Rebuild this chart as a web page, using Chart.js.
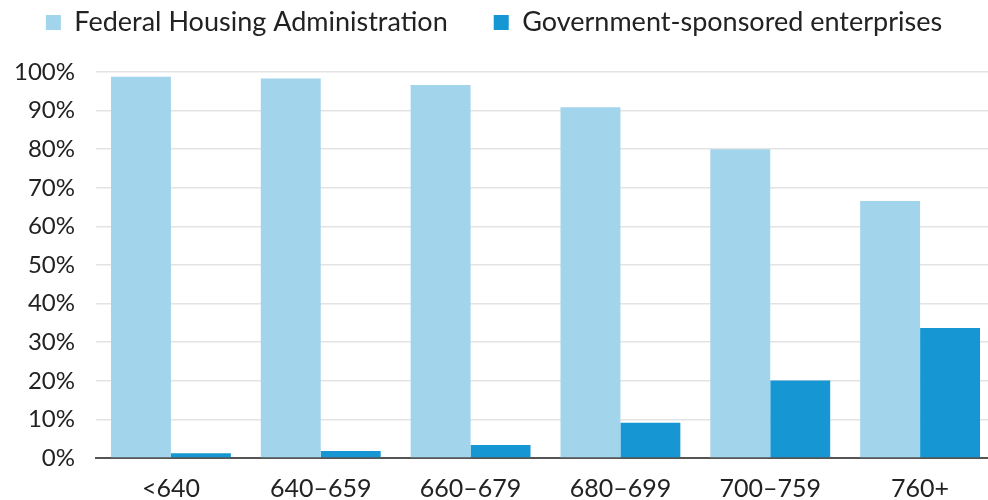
<!DOCTYPE html>
<html>
<head>
<meta charset="utf-8">
<script src="https://cdn.jsdelivr.net/npm/chart.js@4.4.0/dist/chart.umd.min.js"></script>
<style>
    html, body { margin: 0; padding: 0; background: #fff; overflow: hidden; }
    #wrap { width: 1000px; height: 500px; }
</style>
</head>
<body>
<div id="wrap"><canvas id="scoreChart"></canvas></div>
<script>
const categories = ['<640', '640\u2013659', '660\u2013679', '680\u2013699', '700\u2013759', '760+'];
const fhaShare = [98.8, 98.3, 96.6, 90.9, 80.0, 66.6];
const gseShare = [1.2, 1.8, 3.4, 9.1, 20.1, 33.7];
const yTicks = [0, 10, 20, 30, 40, 50, 60, 70, 80, 90, 100];

// push the plot down a bit below the legend
const legendGap = {
    id: 'legendGap',
    beforeInit(chart) {
        const fit = chart.legend.fit;
        chart.legend.fit = function () {
            fit.bind(chart.legend)();
            this.height += 26;
        };
    }
};

const ctx = document.getElementById('scoreChart').getContext('2d');
new Chart(ctx, {
    type: 'bar',
    data: {
        labels: categories,
        datasets: [
            {
                label: 'Federal Housing Administration',
                data: fhaShare,
                backgroundColor: '#a2d4ec',
                categoryPercentage: 0.8,
                barPercentage: 1.0
            },
            {
                label: 'Government-sponsored enterprises',
                data: gseShare,
                backgroundColor: '#1696d2',
                categoryPercentage: 0.8,
                barPercentage: 1.0
            }
        ]
    },
    options: {
        responsive: true,
        maintainAspectRatio: false,
        animation: false,
        layout: { padding: { left: -7, right: 5, top: -37, bottom: -12 } },
        scales: {
            x: {
                grid: { display: false },
                border: { color: '#555555', width: 2 },
                ticks: {
                    color: '#222222',
                    font: { family: 'Lato', size: 25 },
                    padding: 8
                }
            },
            y: {
                min: 0,
                max: 100,
                afterBuildTicks: (axis) => {
                    axis.ticks = yTicks.map(v => ({ value: v }));
                },
                grid: { color: '#e3e3e3', lineWidth: 1.5, drawTicks: false },
                border: { display: false },
                ticks: {
                    autoSkip: false,
                    color: '#222222',
                    font: { family: 'Lato', size: 24 },
                    padding: 21,
                    callback: (v) => v + '%'
                }
            }
        },
        plugins: {
            legend: {
                display: true,
                position: 'top',
                labels: {
                    color: '#222222',
                    font: { family: 'Lato', size: 27 },
                    boxWidth: 15,
                    boxHeight: 15,
                    padding: 46
                }
            },
            tooltip: { enabled: false }
        }
    },
    plugins: [legendGap]
});
</script>
</body>
</html>
